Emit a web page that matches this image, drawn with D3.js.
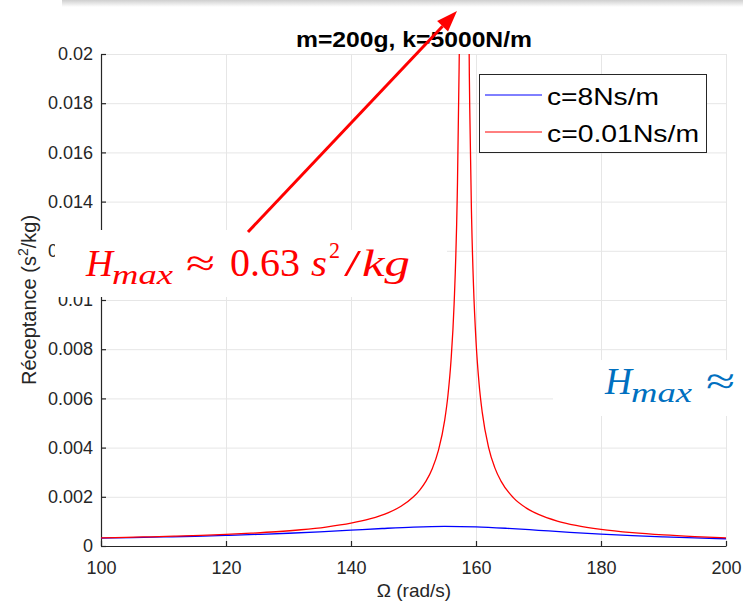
<!DOCTYPE html>
<html><head><meta charset="utf-8">
<script src="https://cdn.jsdelivr.net/npm/d3@7"></script>
<style>body{margin:0;background:#fff}svg{display:block}</style>
</head><body>
<svg id="chart" width="743" height="604"></svg>
<script>
// ---- data ----
const omegaRed = [100,104,108,112,116,120,124,128,132,136,140,143,146,148,150,151,152,153,154,155,155.5,156,156.5,157,157.3,157.5,158.11,158.7,159,159.3,159.6,160,160.5,161,162,163,164,166,168,170,173,176,180,185,190,195,200];
const receptanceRed = [0.000333,0.000353,0.000375,0.000401,0.000433,0.000472,0.000520,0.000580,0.000660,0.000769,0.000926,0.001099,0.001357,0.001615,0.002000,0.002274,0.002637,0.003143,0.003894,0.005128,0.006099,0.007530,0.009847,0.014245,0.019478,0.025806,0.632,0.026925,0.017794,0.013280,0.010590,0.008333,0.006577,0.005429,0.004019,0.003187,0.002637,0.001956,0.001551,0.001282,0.001014,0.000837,0.000676,0.000542,0.000450,0.000384,0.000333];
const omegaBlue = [100,105,110,115,120,125,130,135,140,145,150,155,160,165,170,175,180,185,190,195,200];
const receptanceBlue = [0.000322,0.000343,0.000367,0.000396,0.000430,0.000471,0.000519,0.000577,0.000643,0.000711,0.000769,0.000797,0.000778,0.000718,0.000638,0.000557,0.000484,0.000423,0.000372,0.000329,0.000294];
const xTicks = [100,120,140,160,180,200];
const xTickLabels = ["100","120","140","160","180","200"];
const yTicks = [0,0.002,0.004,0.006,0.008,0.01,0.012,0.014,0.016,0.018,0.02];
const yTickLabels = ["0","0.002","0.004","0.006","0.008","0.01","0.012","0.014","0.016","0.018","0.02"];
const seriesNames = ["c=8Ns/m","c=0.01Ns/m"];
const seriesColors = ["#0000ff","#ff0000"];
const titleText = "m=200g, k=5000N/m";
const xLabelText = "\u03A9 (rad/s)";

// ---- drawing ----
const svg = d3.select("#chart");
const L = 101, R = 726, T = 54, B = 546;
const x = d3.scaleLinear().domain([100,200]).range([L,R]);
const y = d3.scaleLinear().domain([0,0.02]).range([B,T]);
const axisCol = "#262626", gridCol = "#e6e6e6";
const sans = "'Liberation Sans', Arial, sans-serif";
const serif = "'Liberation Serif', 'DejaVu Serif', serif";

// top shadow band
const defs = svg.append("defs");
const g1 = defs.append("linearGradient").attr("id","shadow").attr("x1",0).attr("y1",0).attr("x2",0).attr("y2",1);
g1.append("stop").attr("offset","0").attr("stop-color","#cfcfcf");
g1.append("stop").attr("offset","1").attr("stop-color","#ffffff");
svg.append("rect").attr("x",62).attr("y",0).attr("width",681).attr("height",7).attr("fill","url(#shadow)");
defs.append("clipPath").attr("id","clip").append("rect").attr("x",L).attr("y",T).attr("width",R-L).attr("height",B-T);

// grid
svg.append("g").selectAll("line").data(xTicks).join("line")
  .attr("x1",d=>x(d)+0.5).attr("x2",d=>x(d)+0.5).attr("y1",T).attr("y2",B)
  .attr("stroke",gridCol).attr("stroke-width",1);
svg.append("g").selectAll("line").data(yTicks).join("line")
  .attr("x1",L).attr("x2",R).attr("y1",d=>y(d)+0.5).attr("y2",d=>y(d)+0.5)
  .attr("stroke",gridCol).attr("stroke-width",1);

// axes
const xAxis = d3.axisBottom(x).tickValues(xTicks).tickFormat((d,i)=>xTickLabels[i]).tickSizeInner(-5).tickSizeOuter(0).tickPadding(15);
const gx = svg.append("g").attr("transform",`translate(0,${B})`).call(xAxis);
const yAxis = d3.axisLeft(y).tickValues(yTicks).tickFormat((d,i)=>yTickLabels[i]).tickSizeInner(-5).tickSizeOuter(0).tickPadding(8);
const gy = svg.append("g").attr("transform",`translate(${L},0)`).call(yAxis);
[gx,gy].forEach(g=>{
  g.select(".domain").attr("stroke",axisCol).attr("stroke-width",1.2);
  g.selectAll(".tick line").attr("stroke",axisCol).attr("stroke-width",1.2);
  g.selectAll(".tick text").attr("fill",axisCol).style("font-family",sans).style("font-size","18px");
});

// curves
const lineGen = d3.line().x(d=>x(d[0])).y(d=>y(d[1])).curve(d3.curveMonotoneX);
const plot = svg.append("g").attr("clip-path","url(#clip)");
plot.append("path").datum(omegaBlue.map((w,i)=>[w,receptanceBlue[i]]))
  .attr("d",lineGen).attr("fill","none").attr("stroke",seriesColors[0]).attr("stroke-width",1.3);
plot.append("path").datum(omegaRed.map((w,i)=>[w,receptanceRed[i]]))
  .attr("d",lineGen).attr("fill","none").attr("stroke",seriesColors[1]).attr("stroke-width",1.3);

// title
svg.append("text").attr("x",414).attr("y",47).attr("text-anchor","middle")
  .attr("textLength",236).attr("lengthAdjust","spacingAndGlyphs")
  .style("font-family",sans).style("font-weight","bold").style("font-size","22px").attr("fill","#000").text(titleText);

// x label
svg.append("text").attr("x",414).attr("y",597).attr("text-anchor","middle")
  .style("font-family",sans).style("font-size","19px").attr("fill",axisCol).text(xLabelText);

// y label
const yl = svg.append("text").attr("transform","translate(36,300) rotate(-90)").attr("text-anchor","middle")
  .style("font-family",sans).style("font-size","20px").attr("fill",axisCol);
yl.append("tspan").text("R\u00e9ceptance (s");
yl.append("tspan").attr("dy",-8).style("font-size","14px").text("2");
yl.append("tspan").attr("dy",8).text("/kg)");

// legend
const lg = svg.append("g");
lg.append("rect").attr("x",479.5).attr("y",74.5).attr("width",227).attr("height",78)
  .attr("fill","#fff").attr("stroke",axisCol).attr("stroke-width",1);
const legY = [95,132], legW = [112,152];
seriesNames.forEach((n,i)=>{
  lg.append("line").attr("x1",485).attr("x2",542).attr("y1",legY[i]).attr("y2",legY[i]).attr("stroke",seriesColors[i]).attr("stroke-width",1);
  lg.append("text").attr("x",547).attr("y",legY[i]+10).attr("textLength",legW[i]).attr("lengthAdjust","spacingAndGlyphs")
    .style("font-family",sans).style("font-size","24px").attr("fill","#000").text(n);
});

// white annotation boxes
svg.append("rect").attr("x",55).attr("y",230).attr("width",392).attr("height",67).attr("fill","#fff");
svg.append("rect").attr("x",553).attr("y",360).attr("width",190).attr("height",56).attr("fill","#fff");

// annotation text helper
function piece(xp, yp, txt, size, italic, col, len){
  const t = svg.append("text").attr("x",xp).attr("y",yp).attr("fill",col)
    .style("font-family",serif).style("font-size",size+"px").style("font-style",italic?"italic":"normal").text(txt);
  if(len) t.attr("textLength",len).attr("lengthAdjust","spacingAndGlyphs");
}
const redC = "#ff0000", blueC = "#0070c0";
piece(86,276,"H",38,true,redC,27);
piece(112,284,"max",28,true,redC,61);
piece(186,276,"\u2248",38,false,redC,29);
piece(230,276,"0.63",39,false,redC,70);
piece(311,276,"s",38,true,redC,16);
piece(329,258,"2",24,false,redC,11);
piece(344,276,"/",38,false,redC,17);
piece(362,276,"kg",38,true,redC,48);

piece(605,394,"H",38,true,blueC,27);
piece(631,402,"max",28,true,blueC,61);
piece(706,394,"\u2248",38,false,blueC,29);

// arrow
const ax1=248, ay1=232, ax2=457, ay2=11;
const ang = Math.atan2(ay2-ay1, ax2-ax1);
const hl = 21, hw = 7.5;
const bx = ax2 - hl*Math.cos(ang), by = ay2 - hl*Math.sin(ang);
svg.append("line").attr("x1",ax1).attr("y1",ay1).attr("x2",bx).attr("y2",by).attr("stroke",redC).attr("stroke-width",3);
svg.append("path").attr("d",`M${ax2},${ay2} L${bx+hw*Math.sin(ang)},${by-hw*Math.cos(ang)} L${bx-hw*Math.sin(ang)},${by+hw*Math.cos(ang)} Z`).attr("fill",redC);
</script>
</body></html>
